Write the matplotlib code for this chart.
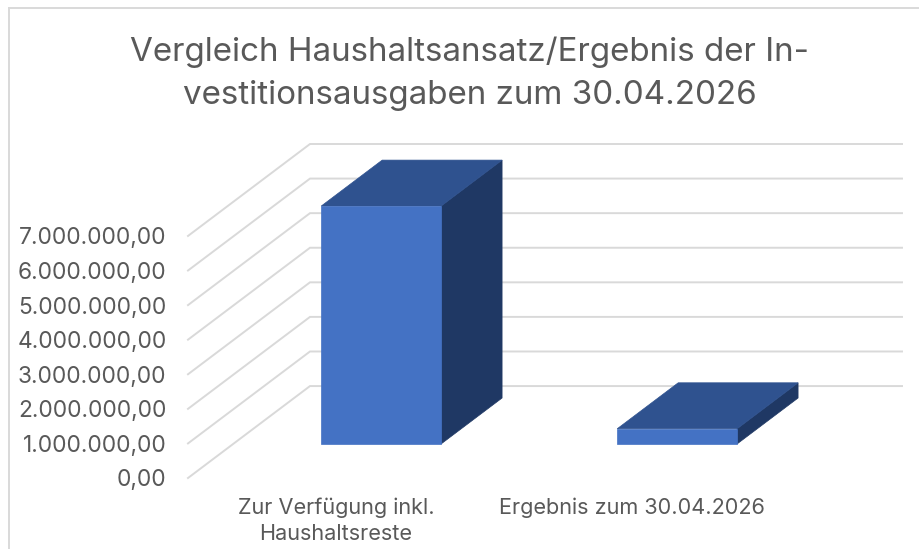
import matplotlib
matplotlib.use("Agg")
import matplotlib.pyplot as plt
from matplotlib.lines import Line2D

categories = ["Zur Verfügung inkl.\nHaushaltsreste", "Ergebnis zum 30.04.2026"]
values = [6880000, 440000]
y_ticks = [0, 1000000, 2000000, 3000000, 4000000, 5000000, 6000000, 7000000]
y_labels = ["0,00", "1.000.000,00", "2.000.000,00", "3.000.000,00",
            "4.000.000,00", "5.000.000,00", "6.000.000,00", "7.000.000,00"]
title = "Vergleich Haushaltsansatz/Ergebnis der In-\nvestitionsausgaben zum 30.04.2026"

W, H = 919, 549
GREY = "#595959"
GRID = "#d9d9d9"

# oblique depth: how far the back wall is shifted from the front plane
DEPTH_X = 122 / 296
DEPTH_Y = 92 / 34.6 * 1000000
BAR_W = 0.405
D0, D1 = 0.37, 0.87


def p(x, y, d):
  return x + d * DEPTH_X, y + d * DEPTH_Y


def face(ax, corners, color):
  xs, ys = zip(*[p(*c) for c in corners])
  ax.fill(xs, ys, color=color, lw=0.5, clip_on=False, zorder=3)


fig = plt.figure(figsize=(W / 100, H / 100), dpi=100)
plt.rcParams["font.family"] = ["Inter", "DejaVu Sans"]

ax = fig.add_axes([188 / W, (H - 478) / H, (902 - 188) / W, (478 - 144) / H])
ax.set_xlim(-0.5, 1.5 + DEPTH_X)
ax.set_ylim(0, 7000000 + DEPTH_Y)
for s in ax.spines.values():
  s.set_visible(False)

# gridlines: along the side wall, then along the back wall
for v in y_ticks:
  xs, ys = zip(p(-0.5, v, 0), p(-0.5, v, 1), p(1.5, v, 1))
  ax.plot(xs, ys, color=GRID, lw=1.4, clip_on=False, zorder=1, solid_joinstyle="miter")

for i, v in enumerate(values):
  l, r = i - BAR_W / 2, i + BAR_W / 2
  face(ax, [(r, 0, D0), (r, 0, D1), (r, v, D1), (r, v, D0)], "#1f3864")
  face(ax, [(l, v, D0), (r, v, D0), (r, v, D1), (l, v, D1)], "#2f528f")
  face(ax, [(l, 0, D0), (r, 0, D0), (r, v, D0), (l, v, D0)], "#4472c4")

ax.set_yticks(y_ticks)
ax.set_yticklabels(y_labels, fontsize=16.4, color=GREY)
ax.set_xticks([0, 1])
ax.set_xticklabels(categories, fontsize=15.6, color=GREY, linespacing=1.4)
ax.tick_params(axis="y", length=0, pad=15.5)
ax.tick_params(axis="x", length=0, pad=14)

fig.text(470 / W, 1 - 74 / H, title, ha="center", va="center", fontsize=23.9,
         color=GREY, linespacing=1.5)

# chart frame, only partly inside the crop
fig.add_artist(Line2D([9 / W, 9 / W], [0, 1 - 8 / H], color=GRID, lw=1.4))
fig.add_artist(Line2D([9 / W, 1], [1 - 8 / H, 1 - 8 / H], color=GRID, lw=1.4))

fig.savefig("out.png", dpi=100)
